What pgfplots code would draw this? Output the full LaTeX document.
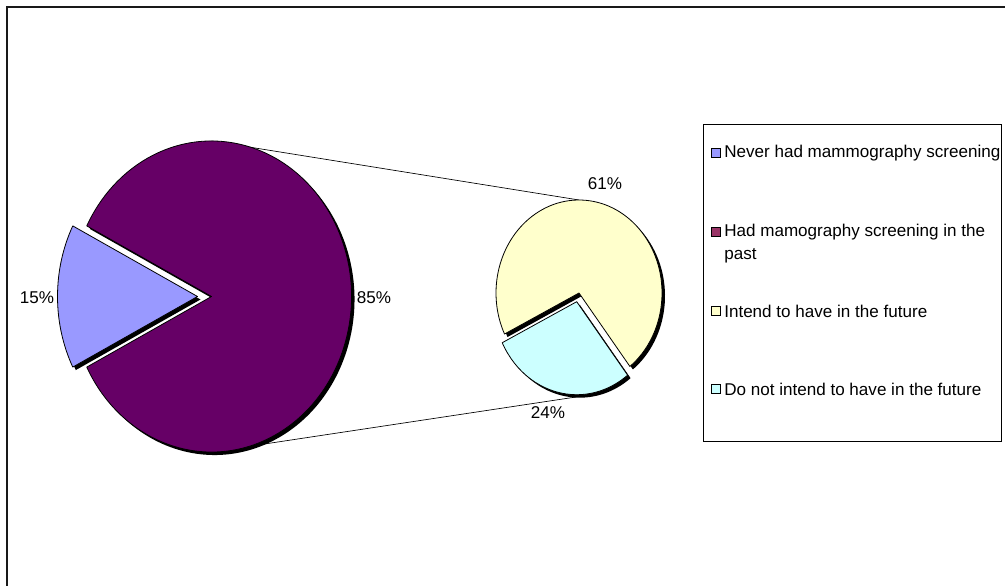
\documentclass[border=0pt]{standalone}
\usepackage{pgfplots}
\pgfplotsset{compat=1.18}
\usepackage{fontspec}
\setmainfont{Liberation Sans}
\definecolor{cNever}{HTML}{9999FF}
\definecolor{cPast}{HTML}{660066}
\definecolor{cPastLeg}{HTML}{993366}
\definecolor{cIntend}{HTML}{FFFFCC}
\definecolor{cNot}{HTML}{CCFFFF}
% data (percent)
\def\vNever{15}
\def\vPast{85}
\def\vIntend{61}
\def\vNot{24}
% wedge: cx, cy, rx, ry, start, end, colour
\newcommand\wedgeslice[7]{%
  \fill[black] (axis cs:{#1+3},{#2-3}) -- (axis cs:{#1+3+#3*cos(#5)},{#2-3+#4*sin(#5)})
     arc[start angle={#5}, end angle={#6}, x radius={#3*0.75pt}, y radius={#4*0.75pt}] -- cycle;
  \filldraw[fill=#7, draw=black, line width=0.6pt, line join=round] (axis cs:{#1},{#2}) -- (axis cs:{#1+#3*cos(#5)},{#2+#4*sin(#5)})
     arc[start angle={#5}, end angle={#6}, x radius={#3*0.75pt}, y radius={#4*0.75pt}] -- cycle;
}
\begin{document}
\begin{tikzpicture}
\useasboundingbox (0,0) rectangle (753.75pt,438.75pt);
\begin{axis}[
  at={(0,0)}, anchor=south west,
  width=753.75pt, height=438.75pt, scale only axis,
  xmin=0, xmax=1005, ymin=0, ymax=585,
  hide axis, clip=false,
  font=\fontsize{12.8pt}{15pt}\selectfont,
]
% outer frame
\draw[line width=1.3pt, black!90] (axis cs:7,-20) -- (axis cs:7,578) -- (axis cs:1030,578);
% connector lines
\draw[line width=0.5pt] (axis cs:211.5,444) -- (axis cs:579,385);
\draw[line width=0.5pt] (axis cs:211.5,133) -- (axis cs:576,188);
% main pie
\wedgeslice{211.5}{288.5}{140}{155.5}{180+\vPast*0+\vNever*1.8}{540-\vNever*1.8}{cPast}
\wedgeslice{197.5}{288.5}{140}{155.5}{180-\vNever*1.8}{180+\vNever*1.8}{cNever}
% secondary pie
\wedgeslice{579}{292}{83}{93}{257+\vNot/(\vIntend+\vNot)*180}{617-\vNot/(\vIntend+\vNot)*180}{cIntend}
\wedgeslice{576.7}{283.3}{83}{93}{257-\vNot/(\vIntend+\vNot)*180}{257+\vNot/(\vIntend+\vNot)*180}{cNot}
% data labels
\node at (axis cs:37,287) {15\%};
\node at (axis cs:374,287) {85\%};
\node at (axis cs:605,401) {61\%};
\node at (axis cs:548,172) {24\%};
% legend
\draw[line width=0.75pt] (axis cs:703,143) rectangle (axis cs:1001,460);
\filldraw[fill=cNever, draw=black, line width=0.5pt] (axis cs:711,427.5) rectangle (axis cs:720,436.5);
\node[anchor=west, inner sep=0pt] at (axis cs:724,432) {Never had mammography screening};
\filldraw[fill=cPastLeg, draw=black, line width=0.5pt] (axis cs:711,348.5) rectangle (axis cs:720,357.5);
\node[anchor=west, inner sep=0pt] at (axis cs:724,353) {Had mamography screening in the};
\node[anchor=west, inner sep=0pt] at (axis cs:724,329) {past};
\filldraw[fill=cIntend, draw=black, line width=0.5pt] (axis cs:711,269.5) rectangle (axis cs:720,278.5);
\node[anchor=west, inner sep=0pt] at (axis cs:724,274) {Intend to have in the future};
\filldraw[fill=cNot, draw=black, line width=0.5pt] (axis cs:711,191.5) rectangle (axis cs:720,200.5);
\node[anchor=west, inner sep=0pt] at (axis cs:724,196) {Do not intend to have in the future};
\end{axis}
\end{tikzpicture}
\end{document}
